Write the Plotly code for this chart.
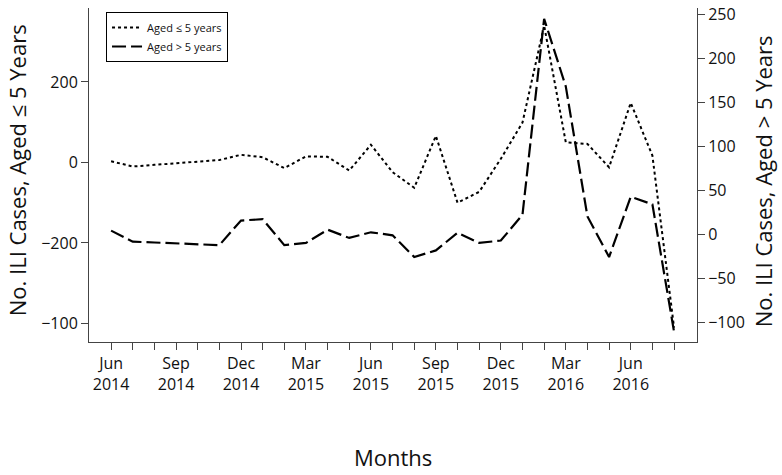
import plotly.graph_objects as go

months = ["Jun 2014", "Jul 2014", "Aug 2014", "Sep 2014", "Oct 2014", "Nov 2014", "Dec 2014",
          "Jan 2015", "Feb 2015", "Mar 2015", "Apr 2015", "May 2015", "Jun 2015", "Jul 2015",
          "Aug 2015", "Sep 2015", "Oct 2015", "Nov 2015", "Dec 2015", "Jan 2016", "Feb 2016",
          "Mar 2016", "Apr 2016", "May 2016", "Jun 2016", "Jul 2016", "Aug 2016"]
labeled_months = ["Jun 2014", "Sep 2014", "Dec 2014", "Mar 2015", "Jun 2015", "Sep 2015",
                  "Dec 2015", "Mar 2016", "Jun 2016"]

# Aged <= 5 years (left axis units, as drawn)
aged_le5 = [3, -10, -6, -2, 1, 6, 19, 13, -14, 15, 14, -20, 44, -24, -63,
            66, -100, -73, 9, 99, 340, 50, 46, -12, 148, 17, -410]
# Aged > 5 years (right axis)
aged_gt5 = [4.5, -8, -9, -10, -11, -12, 16, 17.5, -12, -9.5, 5.6, -3.8, 2.6, -0.8, -25.5,
            -18, 2, -9.4, -6.8, 22.5, 245.5, 168.6, 20.6, -25.5, 43, 34.4, -110.6]

left_tickvals = [200, 0, -200, -400]
left_ticktext = ["200", "0", "\u2212200", "\u2212100"]
right_tickvals = [-100, -50, 0, 50, 100, 150, 200, 250]
right_ticktext = ["\u2212100", "\u221250", "0", "50", "100", "150", "200", "250"]

FONT = "Open Sans"
AX = "#444444"

fig = go.Figure()
fig.add_trace(go.Scatter(x=months, y=aged_le5, mode="lines", name="Aged \u2264 5 years",
                         line=dict(color="black", width=2, dash="3px,3px"), yaxis="y"))
fig.add_trace(go.Scatter(x=months, y=aged_gt5, mode="lines", name="Aged > 5 years",
                         line=dict(color="black", width=2.2, dash="14px,5px"), yaxis="y2"))

ticktext = [m.replace(" ", "<br>") if m in labeled_months else "" for m in months]

fig.update_layout(
    width=782, height=475,
    margin=dict(l=89, r=85, t=4, b=133),
    paper_bgcolor="white", plot_bgcolor="white",
    font=dict(family=FONT, size=16, color="#111"),
    showlegend=True,
    legend=dict(x=0.028, y=0.988, xanchor="left", yanchor="top",
                bordercolor="black", borderwidth=1, bgcolor="white",
                font=dict(size=11), tracegroupgap=0, itemwidth=30),
    xaxis=dict(type="category", categoryorder="array", categoryarray=months,
               range=[-1.02, 27.06], tickmode="array", tickvals=months, ticktext=ticktext,
               ticks="outside", ticklen=7, tickcolor=AX, showline=True, linecolor=AX,
               linewidth=1, showgrid=False, zeroline=False, tickfont=dict(size=16)),
    yaxis=dict(range=[-445.9, 383.6], tickmode="array", tickvals=left_tickvals,
               ticktext=left_ticktext, ticks="outside", ticklen=7, tickcolor=AX,
               showline=True, linecolor=AX, linewidth=1, showgrid=False, zeroline=False,
               tickfont=dict(size=16), ticklabeloverflow="allow"),
    yaxis2=dict(range=[-122.2, 257.8], overlaying="y", side="right", tickmode="array",
                tickvals=right_tickvals, ticktext=right_ticktext, ticks="outside", ticklen=7,
                tickcolor=AX, showline=True, linecolor=AX, linewidth=1, showgrid=False,
                zeroline=False, tickfont=dict(size=16), ticklabeloverflow="allow"),
    annotations=[
        dict(text="No. ILI Cases, Aged \u2264 5 Years", xref="paper", yref="paper",
             x=-0.118, y=0.515, xanchor="center", yanchor="middle", textangle=-90,
             showarrow=False, font=dict(size=22)),
        dict(text="No. ILI Cases, Aged > 5 Years", xref="paper", yref="paper",
             x=1.108, y=0.48, xanchor="center", yanchor="middle", textangle=-90,
             showarrow=False, font=dict(size=22)),
        dict(text="Months", xref="paper", yref="paper", x=0.5, y=-0.345,
             xanchor="center", yanchor="middle", showarrow=False, font=dict(size=22)),
    ],
)

fig.write_html("out.html", config={"displayModeBar": False},
               post_script="document.body.style.margin='0';")
